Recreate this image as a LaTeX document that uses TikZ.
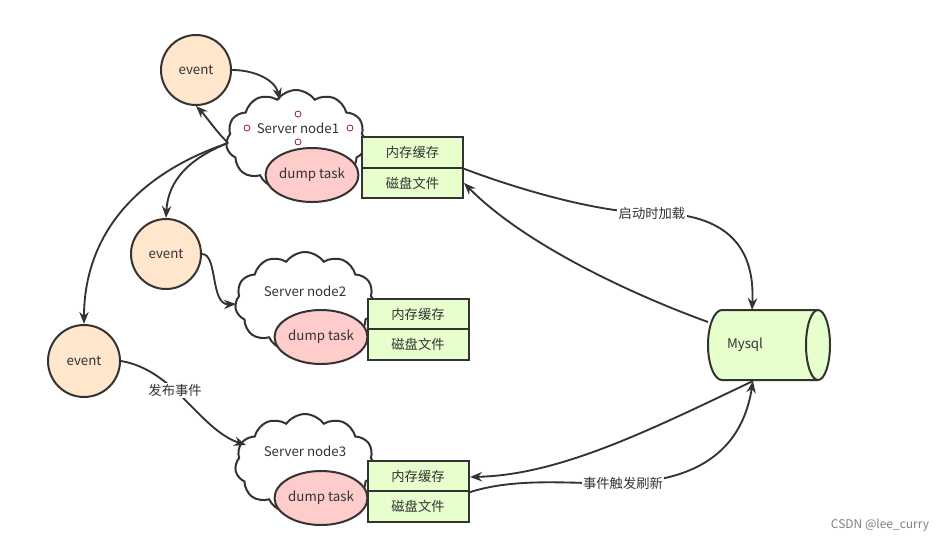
\documentclass[tikz,border=0pt]{standalone}
\usepackage{fontspec}
\setmainfont{Noto Sans CJK SC}
\usetikzlibrary{shapes.symbols,shapes.geometric,arrows.meta}
\definecolor{ln}{HTML}{333333}
\definecolor{evf}{HTML}{FFE6CC}
\definecolor{dmf}{HTML}{FFCCCC}
\definecolor{grf}{HTML}{E6FFCC}
\definecolor{tx}{HTML}{333333}
\begin{document}
\begin{tikzpicture}[x=0.0264cm,y=-0.0264cm,
  every node/.style={font=\fontsize{10}{12}\selectfont,text=tx},
  ev/.style={circle,draw=ln,line width=1.5pt,fill=evf,minimum size=70*0.0264cm,inner sep=0},
  cl/.style={cloud,cloud puffs=11,cloud puff arc=110,aspect=1.4,draw=ln,line width=1.5pt,fill=white,minimum width=140*0.0264cm,minimum height=100*0.0264cm},
  dm/.style={ellipse,draw=ln,line width=1.5pt,fill=dmf,minimum width=92*0.0264cm,minimum height=54*0.0264cm,inner sep=0},
  bx/.style={rectangle,draw=ln,line width=1.5pt,fill=grf,minimum width=101*0.0264cm,minimum height=30.5*0.0264cm,inner sep=0},
  pt/.style={circle,draw=red!50!black,line width=0.5pt,minimum size=6*0.0264cm,inner sep=0},
  ar/.style={draw=ln,line width=1.4pt,-{Stealth[length=9pt,width=7pt]}},
  lb/.style={fill=white,inner sep=1pt}]
\useasboundingbox (0,0) rectangle (951,542);
% node 1
\node[ev] (e1) at (196,70) {event};
\node[cl] (c1) at (296,140) {};
\node (t1) at (298,128) {Server node1};
\node[pt] (p1) at (298,114) {};
\node[pt] (p2) at (247,128) {};
\node[pt] (p3) at (350,128) {};
\node[pt] (p4) at (298,142) {};
\node[dm] (d1) at (312,175) {dump task};
\node[bx] (m1) at (412.5,152.5) {内存缓存};
\node[bx] (f1) at (412.5,183) {磁盘文件};
% node 2
\node[ev] (e2) at (166,254) {event};
\node[cl] (c2) at (305,302) {};
\node (t2) at (305,291) {Server node2};
\node[dm] (d2) at (321,337) {dump task};
\node[bx] (m2) at (418,314) {内存缓存};
\node[bx] (f2) at (418,344.5) {磁盘文件};
% node 3
\node[ev,minimum size=72*0.0264cm] (e3) at (84,361) {event};
\node[cl] (c3) at (305,464) {};
\node (t3) at (305,451) {Server node3};
\node[dm] (d3) at (321,498) {dump task};
\node[bx] (m3) at (418,476) {内存缓存};
\node[bx] (f3) at (418,506.5) {磁盘文件};
% mysql (drawn cylinder)
\draw[ln,line width=1.5pt,fill=grf] (818,310) -- (722,310)
  .. controls (714.3,310) and (708,325.7) .. (708,345)
  .. controls (708,364.3) and (714.3,380) .. (722,380) -- (818,380)
  .. controls (824.6,380) and (830,364.3) .. (830,345)
  .. controls (830,325.7) and (824.6,310) .. (818,310) -- cycle;
\draw[ln,line width=1.5pt] (818,310)
  .. controls (811.4,310) and (806,325.7) .. (806,345)
  .. controls (806,364.3) and (811.4,380) .. (818,380);
\node (dbt) at (745,345) {Mysql};
\coordinate (dbtop) at (752,310);
\coordinate (dbbot) at (753,381);
\coordinate (dbl) at (708,322);
\coordinate (cl1) at (228,143);
% connectors
\draw[ar] (e1.east) .. controls (255,70) and (275,80) .. (280,100);
\draw[ar] (cl1) .. controls (215,130) and (205,115) .. (e1.south);
\draw[ar] (cl1) .. controls (190,158) and (168,180) .. (e2.north);
\draw[ar] (cl1) .. controls (120,180) and (84,250) .. (e3.north);
\draw[ar] (e2.east) .. controls (218,254) and (210,305) .. (236,304);
\draw[ar] (e3.east) .. controls (175,370) and (200,430) .. (246,445)
  node[pos=0.4,lb] {发布事件};
\draw[ar] (m1.south east) .. controls (520,190) and (600,213) .. (652,213)
  node[lb] {启动时加载} .. controls (730,213) and (755,250) .. (dbtop);
\draw[ar] (dbl) .. controls (620,290) and (520,240) .. (f1.east);
\draw[ar] (m3.south east) .. controls (520,476) and (580,485) .. (623,483)
  node[lb] {事件触发刷新} .. controls (720,480) and (745,430) .. (dbbot);
\draw[ar] (dbbot) .. controls (650,430) and (560,475) .. (470,477);
\node[text=gray,font=\fontsize{9}{10}\selectfont] (wm) at (880,525) {CSDN @lee\_curry};
\end{tikzpicture}
\end{document}
